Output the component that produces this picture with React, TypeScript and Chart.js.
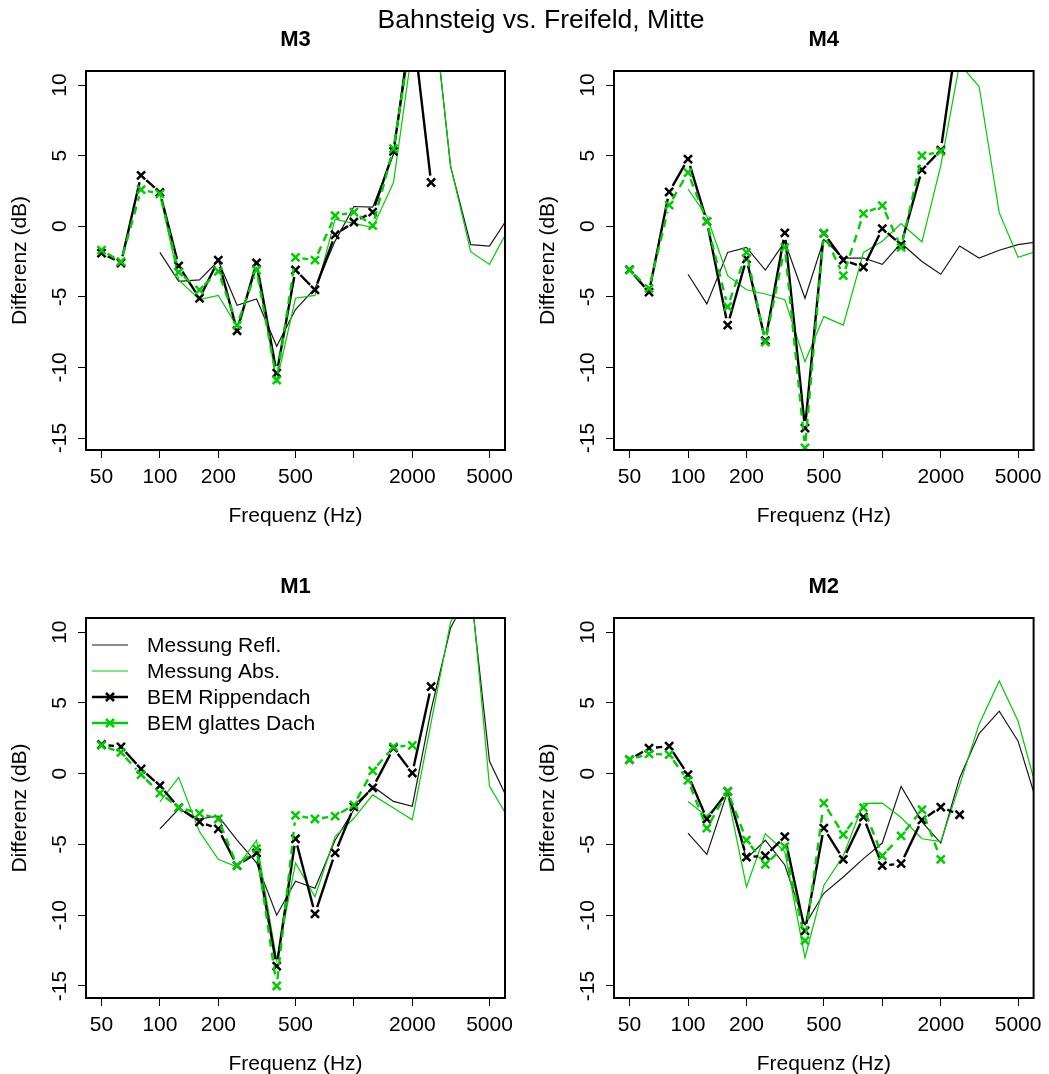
import React, { useEffect, useRef } from 'react';
import { Chart, registerables } from 'chart.js';

Chart.register(...registerables);

const FONT = "'Liberation Sans', Arial, Helvetica, sans-serif";

// Third-octave band centre frequencies (Hz)
const FREQ = [50, 63, 80, 100, 125, 160, 200, 250, 315, 400, 500, 630, 800, 1000, 1250, 1600, 2000, 2500, 3150, 4000, 5000, 6300];

const X_TICKS = [50, 100, 200, 500, 1000, 2000, 5000];
const X_TICK_LABELS = ['50', '100', '200', '500', '', '2000', '5000'];
const Y_TICKS = [-15, -10, -5, 0, 5, 10];

const MAIN_TITLE = 'Bahnsteig vs. Freifeld, Mitte';
const X_TITLE = 'Frequenz (Hz)';
const Y_TITLE = 'Differenz (dB)';
const SERIES_NAMES = ['Messung Refl.', 'Messung Abs.', 'BEM Rippendach', 'BEM glattes Dach'];

type V = number | null;

// M3
const M3_REFL: V[] = [null, null, null, -1.85, -3.9, -3.8, -2.45, -5.6, -5.15, -8.5, -5.9, -4.4, -1.05, 1.4, 1.35, 5.1, 15.5, 17, 4.25, -1.3, -1.4, 0.7];
const M3_ABS: V[] = [null, null, null, 2.3, -3.8, -5.2, -4.9, -7.1, -2.95, -11.0, -5.1, -4.9, 0.5, 0.2, -0.1, 3.1, 12.6, 17, 4.3, -1.8, -2.7, -0.1];
const M3_BEM_RIPP: V[] = [-1.9, -2.6, 3.6, 2.4, -2.8, -5.1, -2.4, -7.4, -2.6, -10.4, -3.1, -4.5, -0.6, 0.3, 1.0, 5.3, 14.5, 3.1, null, null, null, null];
const M3_BEM_GLATT: V[] = [-1.7, -2.5, 2.6, 2.3, -3.25, -4.5, -3.2, -7.0, -3.1, -10.9, -2.2, -2.4, 0.75, 1.0, 0.05, 5.5, 14.0, null, null, null, null, null];

// M4
const M4_REFL: V[] = [null, null, null, -3.4, -5.5, -1.85, -1.5, -3.1, -1.1, -5.1, -0.95, -2.25, -2.25, -2.7, -1.2, -2.5, -3.4, -1.4, -2.25, -1.7, -1.3, -1.1];
const M4_ABS: V[] = [null, null, null, 2.64, 0.7, -3.5, -4.5, -4.8, -5.2, -9.6, -6.4, -7.0, -1.85, -1.06, 0.2, -1.1, 4.3, 11.5, 9.9, 0.95, -2.2, -1.75];
const M4_BEM_RIPP: V[] = [-3.07, -4.67, 2.43, 4.76, 0.35, -7.0, -2.3, -8.1, -0.47, -14.3, -0.5, -2.4, -2.9, -0.17, -1.3, 4.0, 5.4, 14.7, null, null, null, null];
const M4_BEM_GLATT: V[] = [-3.1, -4.4, 1.5, 3.8, 0.35, -5.7, -1.85, -8.2, -1.5, -15.7, -0.5, -3.5, 0.9, 1.46, -1.5, 5.0, 5.3, null, null, null, null, null];

// M1
const M1_REFL: V[] = [null, null, null, -3.9, -2.5, -3.2, -3.0, -4.7, -6.3, -10.0, -7.6, -8.1, -4.7, -2.55, -0.9, -1.96, -2.3, 4.5, 10.3, 13.0, 0.87, -2.0];
const M1_ABS: V[] = [null, null, null, -2.0, -0.26, -4.1, -6.05, -6.6, -4.7, -13.2, -6.3, -8.7, -4.45, -3.15, -1.5, -2.43, -3.26, 3.6, 10.7, 13.5, -0.9, -3.2];
const M1_BEM_RIPP: V[] = [2.06, 1.9, 0.33, -0.85, -2.4, -3.4, -3.9, -6.5, -5.6, -13.6, -4.6, -9.9, -5.6, -2.35, -1.0, 1.8, 0.05, 6.15, null, null, null, null];
const M1_BEM_GLATT: V[] = [2.0, 1.5, -0.07, -1.37, -2.4, -2.8, -3.2, -6.5, -5.3, -15.0, -2.95, -3.2, -3.0, -2.2, 0.2, 1.9, 2.0, null, null, null, null, null];

// M2
const M2_REFL: V[] = [null, null, null, -4.2, -5.7, -1.25, -6.0, -4.7, -6.45, -10.7, -8.45, -7.3, -6.0, -4.9, -0.9, -3.4, -4.9, -0.3, 2.84, 4.42, 2.3, -2.2];
const M2_ABS: V[] = [null, null, null, -1.96, -3.0, -1.5, -8.0, -4.25, -5.5, -13.0, -7.9, -5.8, -2.1, -2.08, -3.1, -4.6, -4.8, -0.8, 3.5, 6.55, 3.7, -1.35];
const M2_BEM_RIPP: V[] = [0.99, 1.8, 1.94, -0.07, -3.2, -1.25, -5.9, -5.8, -4.45, -11.1, -3.85, -6.05, -3.07, -6.5, -6.35, -3.26, -2.36, -2.9, null, null, null, null];
const M2_BEM_GLATT: V[] = [0.99, 1.4, 1.35, -0.47, -3.85, -1.25, -4.7, -6.4, -5.15, -11.8, -2.08, -4.3, -2.4, -5.8, -4.4, -2.55, -6.05, null, null, null, null, null];

const GREEN = '#00CD00';
const BLACK = '#000000';

// Gap left around each marker on lines that carry points (px from the point centre)
const POINT_GAP = 7;

// Visual styles for the four series (same order as SERIES_NAMES)
const STYLES = [
  { color: '#1a1a1a', width: 1.2, dash: null as number[] | null, marker: false },
  { color: GREEN, width: 1.2, dash: null as number[] | null, marker: false },
  { color: BLACK, width: 2.4, dash: null as number[] | null, marker: true },
  { color: GREEN, width: 2.4, dash: [8, 6] as number[] | null, marker: true },
];

type PanelDef = {
  title: string;
  series: V[][];
  left: number;
  top: number;
  width: number;
  height: number;
  area: { left: number; top: number; right: number; bottom: number };
  legend: boolean;
};

const PANELS: PanelDef[] = [
  { title: 'M3', series: [M3_REFL, M3_ABS, M3_BEM_RIPP, M3_BEM_GLATT], left: 0, top: 0, width: 524, height: 537, area: { left: 86, top: 71, right: 505, bottom: 450 }, legend: false },
  { title: 'M4', series: [M4_REFL, M4_ABS, M4_BEM_RIPP, M4_BEM_GLATT], left: 524, top: 0, width: 525, height: 537, area: { left: 90, top: 71, right: 510, bottom: 450 }, legend: false },
  { title: 'M1', series: [M1_REFL, M1_ABS, M1_BEM_RIPP, M1_BEM_GLATT], left: 0, top: 537, width: 524, height: 537, area: { left: 86, top: 81, right: 505, bottom: 461 }, legend: true },
  { title: 'M2', series: [M2_REFL, M2_ABS, M2_BEM_RIPP, M2_BEM_GLATT], left: 524, top: 537, width: 525, height: 537, area: { left: 90, top: 81, right: 510, bottom: 461 }, legend: false },
];

const Y_MIN = -15.85;
const Y_MAX = 11.0;
const X_MIN = 41.6;
const X_MAX = 6010;

// Dash array for one segment between two points: leaves a gap at both ends
// (points-and-lines style) and optionally dashes the visible middle part.
function segmentDash(pattern: number[] | null) {
  return (c: any) => {
    const L = Math.hypot(c.p1.x - c.p0.x, c.p1.y - c.p0.y);
    const g = POINT_GAP;
    if (L <= 2 * g) return [0, L + 1000];
    const inner = L - 2 * g;
    if (!pattern) return [0, g, inner, g + 1000];
    const arr = [0, g];
    let rem = inner;
    let on = true;
    while (rem > 0.01) {
      const len = Math.min(on ? pattern[0] : pattern[1], rem);
      arr.push(len);
      rem -= len;
      on = !on;
    }
    if (arr.length % 2 === 1) arr.push(g + 1000);
    else arr.push(0, g + 1000);
    return arr;
  };
}

function drawCross(ctx: CanvasRenderingContext2D, x: number, y: number, h: number) {
  ctx.beginPath();
  ctx.moveTo(x - h, y - h);
  ctx.lineTo(x + h, y + h);
  ctx.moveTo(x + h, y - h);
  ctx.lineTo(x - h, y + h);
  ctx.stroke();
}

// Frame, rotated axis texts, panel title and legend in the style of base R graphics
const rPanelPlugin = {
  id: 'rPanel',
  afterDraw(chart: any, _args: any, opts: any) {
    const { ctx, chartArea: a, scales } = chart;
    const ys = scales.y;
    ctx.save();
    ctx.strokeStyle = '#000';
    ctx.lineWidth = 2;
    ctx.setLineDash([]);
    ctx.strokeRect(a.left, a.top, a.right - a.left, a.bottom - a.top);

    ctx.fillStyle = '#000';
    ctx.textAlign = 'center';
    ctx.textBaseline = 'alphabetic';
    ctx.font = `bold 22px ${FONT}`;
    ctx.fillText(opts.title, (a.left + a.right) / 2, a.top - 25);

    ctx.font = `21px ${FONT}`;
    ctx.fillText(X_TITLE, (a.left + a.right) / 2, a.bottom + 72);

    for (const v of Y_TICKS) {
      const py = ys.getPixelForValue(v);
      ctx.save();
      ctx.translate(a.left - 20, py);
      ctx.rotate(-Math.PI / 2);
      ctx.fillText(String(v), 0, 0);
      ctx.restore();
    }

    ctx.save();
    ctx.translate(a.left - 60, (a.top + a.bottom) / 2);
    ctx.rotate(-Math.PI / 2);
    ctx.fillText(Y_TITLE, 0, 0);
    ctx.restore();

    if (opts.legend) {
      ctx.textAlign = 'left';
      ctx.textBaseline = 'middle';
      SERIES_NAMES.forEach((name, i) => {
        const st = STYLES[i];
        const yy = a.top + 27 + i * 26;
        ctx.strokeStyle = st.color;
        ctx.lineWidth = st.width;
        ctx.beginPath();
        ctx.moveTo(a.left + 6, yy);
        ctx.lineTo(a.left + 42, yy);
        ctx.stroke();
        if (st.marker) {
          ctx.lineWidth = 2.5;
          drawCross(ctx, a.left + 24, yy, 4);
        }
        ctx.fillStyle = '#000';
        ctx.fillText(name, a.left + 61, yy + 1);
      });
    }
    ctx.restore();
  },
};

function Panel({ def }: { def: PanelDef }) {
  const ref = useRef<HTMLCanvasElement | null>(null);

  useEffect(() => {
    if (!ref.current) return;
    const { area, width, height } = def;
    const yAxisWidth = area.left;
    const xAxisHeight = height - area.bottom;
    const datasets = def.series.map((vals, i) => {
      const st = STYLES[i];
      const ds: any = {
        label: SERIES_NAMES[i],
        data: FREQ.map((f, k) => ({ x: f, y: vals[k] })).filter((p) => p.y !== null),
        borderColor: st.color,
        backgroundColor: st.color,
        borderWidth: st.width,
        borderCapStyle: 'butt',
        pointStyle: 'crossRot',
        pointRadius: st.marker ? 5.7 : 0,
        pointBorderWidth: 2.5,
        pointBorderColor: st.color,
        tension: 0,
        fill: false,
        clip: 0,
        order: 4 - i,
      };
      if (st.marker) ds.segment = { borderDash: segmentDash(st.dash) };
      return ds;
    });

    const chart = new Chart(ref.current, {
      type: 'line',
      data: { datasets },
      plugins: [rPanelPlugin],
      options: {
        animation: false,
        responsive: false,
        events: [],
        layout: { padding: { top: area.top, right: width - area.right, left: 0, bottom: 0 } },
        plugins: {
          legend: { display: false },
          tooltip: { enabled: false },
          title: { display: false },
          rPanel: { title: def.title, legend: def.legend },
        } as any,
        scales: {
          x: {
            type: 'logarithmic',
            min: X_MIN,
            max: X_MAX,
            bounds: 'data',
            afterBuildTicks: (s: any) => {
              s.ticks = X_TICKS.map((v) => ({ value: v }));
            },
            afterFit: (s: any) => {
              s.height = xAxisHeight;
            },
            grid: { drawOnChartArea: false, drawTicks: true, tickLength: 8, color: '#000', lineWidth: 1 },
            border: { display: false },
            ticks: {
              autoSkip: false,
              maxRotation: 0,
              minRotation: 0,
              padding: 7,
              color: '#000',
              font: { family: FONT, size: 21, lineHeight: 1.2 },
              callback: (_v: any, idx: number) => X_TICK_LABELS[idx],
            },
          },
          y: {
            type: 'linear',
            min: Y_MIN,
            max: Y_MAX,
            bounds: 'data',
            afterBuildTicks: (s: any) => {
              s.ticks = Y_TICKS.map((v) => ({ value: v }));
            },
            afterFit: (s: any) => {
              s.width = yAxisWidth;
            },
            grid: { drawOnChartArea: false, drawTicks: true, tickLength: 8, color: '#000', lineWidth: 1 },
            border: { display: false },
            ticks: { display: false },
          },
        } as any,
      },
    } as any);
    return () => chart.destroy();
  }, [def]);

  return (
    <canvas
      ref={ref}
      width={def.width}
      height={def.height}
      style={{ position: 'absolute', left: def.left, top: def.top, width: def.width, height: def.height }}
    />
  );
}

export default function App() {
  return (
    <div style={{ position: 'absolute', left: 0, top: 0, width: 1049, height: 1074, background: '#fff', overflow: 'hidden' }}>
      {PANELS.map((p) => (
        <Panel key={p.title} def={p} />
      ))}
      <div
        style={{
          position: 'absolute',
          left: 241,
          top: 5.5,
          width: 600,
          textAlign: 'center',
          fontFamily: FONT,
          fontSize: 26.5,
          lineHeight: '26.5px',
          color: '#000',
          whiteSpace: 'nowrap',
        }}
      >
        {MAIN_TITLE}
      </div>
    </div>
  );
}
